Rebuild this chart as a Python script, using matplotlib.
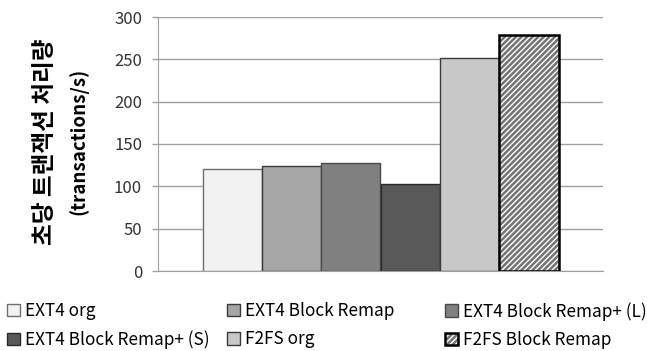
import matplotlib
matplotlib.use("Agg")
import matplotlib.pyplot as plt
from matplotlib.legend_handler import HandlerTuple
import numpy as np

plt.rcParams["font.family"] = ["Noto Sans CJK KR", "DejaVu Sans"]
plt.rcParams["hatch.linewidth"] = 1.0

# Data
series = ["EXT4 org", "EXT4 Block Remap", "EXT4 Block Remap+ (L)",
          "EXT4 Block Remap+ (S)", "F2FS org", "F2FS Block Remap"]
values = [120, 124, 127, 103, 251, 279]
yticks = [0, 50, 100, 150, 200, 250, 300]
ylabel_kr = "초당 트랜잭션 처리량"
ylabel_en = "(transactions/s)"

# Styles
faces = ["#f2f2f2", "#a6a6a6", "#808080", "#595959", "#c8c8c8", "#747474"]
edges = ["#6f6f6f", "#3a3a3a", "#4a4a4a", "#2a2a2a", "#3a3a3a", "black"]

fig = plt.figure(figsize=(6.47, 3.51), dpi=100)
ax = fig.add_axes([158 / 647, 1 - 271 / 351, 445 / 647, 254 / 351])

n = len(series)
width = 0.8 / n
x = -0.4 + width * (np.arange(n) + 0.5)
handles = []
for i in range(n):
    if i == n - 1:
        # hatched bar: white stripes on grey, black outline drawn on top
        base = ax.bar(x[i], values[i], width, color=faces[i],
                      edgecolor="white", linewidth=0, hatch="//////", zorder=3)
        line = ax.bar(x[i], values[i], width, fill=False, edgecolor=edges[i],
                      linewidth=1.8, zorder=4)
        handles.append((base, line))
    else:
        b = ax.bar(x[i], values[i], width, color=faces[i],
                   edgecolor=edges[i], linewidth=1.0, zorder=3)
        handles.append(b)

ax.set_xlim(-0.5, 0.5)
ax.set_ylim(0, 300)
ax.set_yticks(yticks)
ax.set_xticks([])
ax.yaxis.grid(True, color="#a0a0a0", linewidth=1.0, zorder=0)
for s in ["top", "right"]:
    ax.spines[s].set_visible(False)
ax.spines["left"].set_color("#a0a0a0")
ax.spines["bottom"].set_color("#a0a0a0")
ax.tick_params(axis="y", length=4.5, width=1.0, color="#a0a0a0", pad=7,
               labelsize=12, labelcolor="#333333")

# two-line y label
fig.text(45 / 647, 1 - 142 / 351, ylabel_kr, rotation=90, ha="center",
         va="center", fontsize=17, fontweight="bold")
fig.text(78 / 647, 1 - 141 / 351, ylabel_en, rotation=90, ha="center",
         va="center", fontsize=13.5, fontweight="bold")

# Legend: three columns placed by hand
cols = [[0, 3], [1, 4], [2, 5]]
col_x = [7 / 647, 227 / 647, 445 / 647]
for c, xpos in zip(cols, col_x):
    fig.legend([handles[i] for i in c], [series[i] for i in c],
               loc="upper left", bbox_to_anchor=(xpos, 1 - 302 / 351),
               frameon=False, fontsize=12.4, handlelength=0.75,
               handleheight=0.75, handletextpad=0.3, labelspacing=0.6,
               borderpad=0, borderaxespad=0,
               handler_map={tuple: HandlerTuple(ndivide=1)})

fig.savefig("out.png", dpi=100)
